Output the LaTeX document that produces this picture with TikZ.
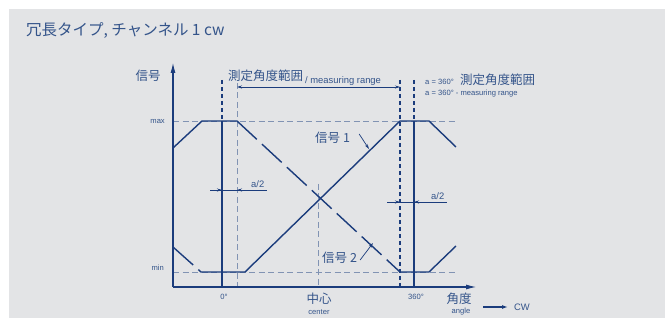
\documentclass[tikz,border=0pt]{standalone}
\usepackage{fontspec}
\setmainfont{Liberation Sans}
\newfontfamily\jp{Noto Sans CJK JP}
\usetikzlibrary{arrows.meta}
\definecolor{panelgrey}{HTML}{E3E4E6}
\definecolor{navy}{HTML}{1B3C7C}
\definecolor{guideblue}{HTML}{8193B3}
\definecolor{inkblue}{HTML}{34548A}

\begin{document}
\begin{tikzpicture}[x=1pt,y=-1pt,
  sigline/.style={navy, line width=1.4pt},
  sigdash/.style={sigline, dash pattern=on 27pt off 7pt},
  chanline/.style={navy, line width=1.3pt},
  chandash/.style={chanline, dash pattern=on 4pt off 3pt},
  guideline/.style={guideblue, line width=0.9pt, dash pattern=on 6pt off 3.5pt},
  dimline/.style={navy, line width=0.7pt},
  dimtip/.style={dimline, -{Stealth[length=5pt,width=3pt]}},
  axisline/.style={navy, line width=1.5pt, -{Latex[length=11pt,width=5pt]}},
  jplabel/.style={inkblue, font=\jp\fontsize{12.5}{14}\selectfont, inner sep=0pt},
  smalllabel/.style={inkblue, font=\fontsize{7.6}{9}\selectfont, inner sep=0pt},
  midlabel/.style={inkblue, font=\fontsize{9.4}{11}\selectfont, inner sep=0pt}]
\useasboundingbox (0,0) rectangle (665,320);
\fill[white] (0,0) rectangle (665,320);
\fill[panelgrey] (9,9) rectangle (665,318);
\node[anchor=west, inkblue, inner sep=0pt, font=\jp\fontsize{15.5}{18}\selectfont] (title) at (26,31) {冗長タイプ, チャンネル 1 cw};

% guides
\draw[guideline] (173,121) -- (456,121);
\draw[guideline] (173,272) -- (456,272);
\draw[guideline] (237,83) -- (237,287);
\draw[guideline] (318,184) -- (318,287);

% channel limits
\draw[chandash] (222,80) -- (222,121);
\draw[chanline] (222,121) -- (222,287);
\draw[chandash] (400,80) -- (400,287);
\draw[chandash] (414,80) -- (414,121);
\draw[chanline] (414,121) -- (414,287);

% signals
\draw[sigline] (173,148) -- (202,121) -- (237,121);
\draw[sigdash] (237,121) -- (400,272);
\draw[sigline] (400,272) -- (429,272) -- (456,246);
\draw[sigdash] (173,247) -- (201,272) -- (222,272);
\draw[sigline] (222,272) -- (245,272) -- (400,121) -- (429,121) -- (456,147);

% axes
\coordinate (origin) at (173,287);
\draw[axisline] (origin) -- (173,62);
\draw[axisline] (origin) -- (477,287);

\node[jplabel] (ylabel) at (148,76) {信号};
\node[smalllabel, anchor=east] (maxlabel) at (165,121) {max};
\node[smalllabel, anchor=east] (minlabel) at (164,268) {min};

% measuring range
\draw[dimline, {Stealth[length=5pt,width=3pt]}-{Stealth[length=5pt,width=3pt]}] (237,87) -- (400,87);
\node[jplabel, anchor=west] (rangejp) at (228,76) {測定角度範囲};
\node[midlabel, anchor=west] (rangeen) at (305,81) {/ measuring range};
\node[smalllabel, anchor=west] (adef) at (425,82) {a = 360°};
\node[jplabel, anchor=west] (adefjp) at (460,80) {測定角度範囲};
\node[smalllabel, anchor=west] (adefen) at (425,94) {a = 360° - measuring range};

% a/2
\draw[dimline] (210,190) -- (267,190);
\draw[dimtip] (211,190) -- (222,190);
\draw[dimtip] (262,190) -- (237,190);
\node[midlabel, anchor=south west] (halfleft) at (251,188) {a/2};
\draw[dimline] (387,202) -- (447,202);
\draw[dimtip] (389,202) -- (400,202);
\draw[dimtip] (425,202) -- (414,202);
\node[midlabel, anchor=south west] (halfright) at (431,200) {a/2};

% signal names
\node[jplabel, anchor=west] (sigone) at (315,138) {信号 1};
\coordinate (sigonetip) at (369,149);
\draw[dimtip] ([xshift=9pt,yshift=4pt]sigone.east) -- (sigonetip);
\node[jplabel, anchor=west] (sigtwo) at (322,258) {信号 2};
\coordinate (sigtwotip) at (373,243);
\draw[dimtip] ([xshift=3pt,yshift=-2pt]sigtwo.east) -- (sigtwotip);

% x axis labels
\node[smalllabel] (zerodeg) at (224,297) {0°};
\node[smalllabel] (fulldeg) at (416,297) {360°};
\node[jplabel] (centerjp) at (319,299) {中心};
\node[smalllabel] (centeren) at (319,312) {center};
\node[jplabel] (anglejp) at (459,299) {角度};
\node[smalllabel] (angleen) at (461,312) {angle};
\node[midlabel, anchor=west] (cw) at (514,307) {CW};
\coordinate (cwtail) at (483,307);
\draw[navy, line width=1.2pt, -{Latex[length=6pt,width=4pt]}, shorten >=6pt] (cwtail) -- (cw.west);
\end{tikzpicture}
\end{document}
